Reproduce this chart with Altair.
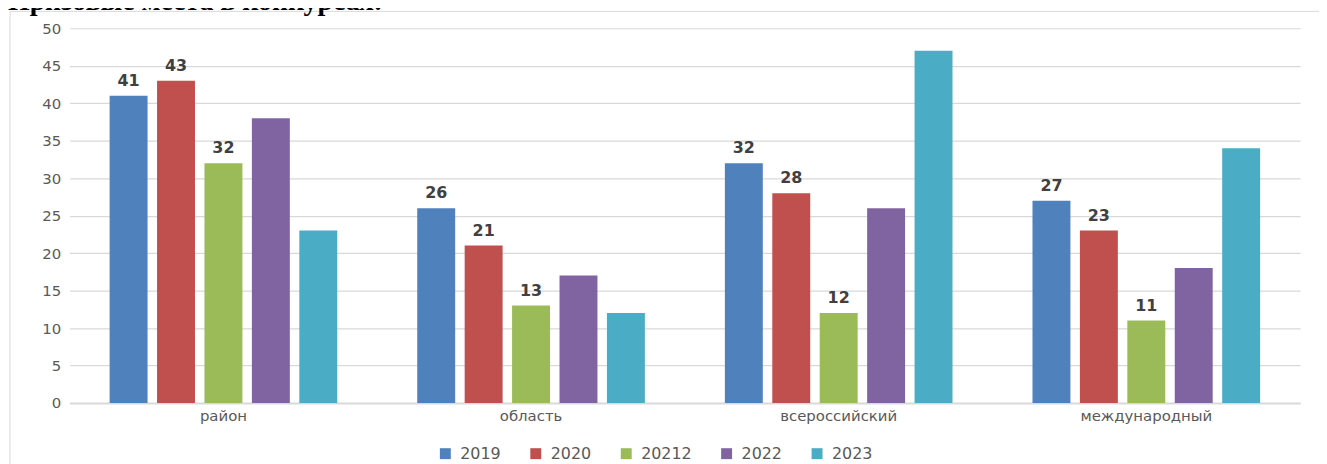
import altair as alt
import pandas as pd

title_text = "Призовые места в конкурсах:"
categories = ["район", "область", "всероссийский", "международный"]
series = ["2019", "2020", "20212", "2022", "2023"]
v2019 = [41, 26, 32, 27]
v2020 = [43, 21, 28, 23]
v20212 = [32, 13, 12, 11]
v2022 = [38, 17, 26, 18]
v2023 = [23, 12, 47, 34]
colors = ["#4F81BD", "#C0504D", "#9BBB59", "#8064A2", "#4BACC6"]
labeled_series = ["2019", "2020", "20212"]
y_ticks = [0, 5, 10, 15, 20, 25, 30, 35, 40, 45, 50]

rows = []
for s, vals in zip(series, [v2019, v2020, v20212, v2022, v2023]):
    for c, v in zip(categories, vals):
        rows.append({"cat": c, "series": s, "value": v})
df = pd.DataFrame(rows)

FONT = "DejaVu Sans"
GRAY = "#595959"

x_enc = alt.X("cat:N", sort=categories,
              scale=alt.Scale(paddingInner=0.26, paddingOuter=0.13),
              axis=alt.Axis(title=None, labelAngle=0, domain=True, domainColor="#d9d9d9",
                            domainWidth=2, ticks=False,
                            labelFont=FONT, labelFontSize=15, labelColor=GRAY,
                            labelPadding=6, grid=False))
xo_enc = alt.XOffset("series:N", sort=series,
                     scale=alt.Scale(paddingInner=0.2, paddingOuter=0))
y_axis = alt.Axis(title=None, values=y_ticks, domain=False,
                  ticks=False, labelOverlap=False,
                  labelFont=FONT, labelFontSize=15, labelColor=GRAY,
                  labelPadding=9, gridColor="#d9d9d9", gridWidth=1.2)
y_enc = alt.Y("value:Q", scale=alt.Scale(domain=[0, 50], nice=False), axis=y_axis)

color_enc = alt.Color("series:N", sort=series,
                      scale=alt.Scale(domain=series, range=colors),
                      legend=alt.Legend(title=None, orient="none", direction="horizontal",
                                        legendX=370, legendY=420,
                                        symbolType="square", symbolSize=121,
                                        symbolStrokeWidth=0,
                                        labelFont=FONT, labelFontSize=16, labelColor=GRAY,
                                        labelOffset=7, columnPadding=27, padding=0))

base = alt.Chart(df)

bars = base.mark_bar().encode(x=x_enc, xOffset=xo_enc, y=y_enc, color=color_enc)

labels = base.transform_filter(
    alt.FieldOneOfPredicate(field="series", oneOf=labeled_series)
).mark_text(baseline="bottom", dy=-7, font=FONT, fontSize=16, fontWeight="bold",
            color="#404040").encode(x=x_enc, xOffset=xo_enc, y=y_enc,
                                    text=alt.Text("value:Q"))

border = alt.Chart(pd.DataFrame({"k": [0]})).mark_rect(
    fill="transparent", stroke="#d9d9d9", strokeWidth=1).encode(
    x=alt.value(-60), x2=alt.value(1300), y=alt.value(-17), y2=alt.value(500))

title = alt.Chart(pd.DataFrame({"k": [0]})).mark_text(
    text=title_text, font="Liberation Serif", fontWeight="bold", fontSize=28,
    align="left", baseline="alphabetic", color="#000000").encode(
    x=alt.value(-62), y=alt.value(-18))

chart = alt.layer(border, bars, labels, title).properties(
    width=1238, height=377,
    autosize=alt.AutoSizeParams(type="none"),
    padding={"left": 62, "top": 19, "right": 19, "bottom": 60},
).configure_view(stroke=None)

chart.save("out.html", embed_options={"renderer": "svg", "actions": False})
